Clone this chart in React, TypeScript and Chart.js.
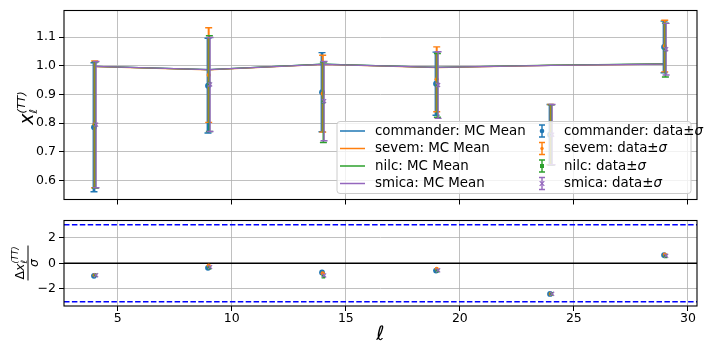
import React, { useEffect, useRef } from 'react';
import { Chart, registerables } from 'chart.js';

Chart.register(...registerables);

// ---------------- data ----------------
const ells = [4, 9, 14, 19, 24, 29];
const methods = ['commander', 'sevem', 'nilc', 'smica'];
const methodColors = ['#1f77b4', '#ff7f0e', '#2ca02c', '#9467bd'];
const xOffsets = [-0.045, -0.015, 0.015, 0.045];
const pointStyles = ['circle', 'circle', 'rect', 'crossRot'];
const pointRadii = [2.9, 2.1, 2.5, 2.9];
const barWidths = [2.8, 2.0, 1.7, 1.4];

const commanderMean = [0.998, 0.987, 1.006, 0.995, 1.002, 1.007];
const sevemMean = [0.997, 0.986, 1.005, 0.994, 1.002, 1.006];
const nilcMean = [0.998, 0.987, 1.006, 0.995, 1.003, 1.007];
const smicaMean = [0.998, 0.987, 1.005, 0.995, 1.002, 1.006];

const commanderData = [0.786, 0.931, 0.908, 0.938, 0.760, 1.066];
const sevemData = [0.796, 0.968, 0.903, 0.953, 0.760, 1.069];
const nilcData = [0.794, 0.938, 0.873, 0.932, 0.759, 1.055];
const smicaData = [0.795, 0.935, 0.877, 0.933, 0.760, 1.058];

const commanderSigma = [0.225, 0.165, 0.138, 0.110, 0.105, 0.090];
const sevemSigma = [0.221, 0.165, 0.134, 0.113, 0.105, 0.090];
const nilcSigma = [0.220, 0.167, 0.140, 0.111, 0.105, 0.094];
const smicaSigma = [0.220, 0.164, 0.138, 0.116, 0.105, 0.090];

const commanderResid = [-0.98, -0.36, -0.72, -0.57, -2.39, 0.64];
const sevemResid = [-0.93, -0.18, -0.78, -0.43, -2.39, 0.67];
const nilcResid = [-0.93, -0.35, -1.05, -0.58, -2.38, 0.52];
const smicaResid = [-0.93, -0.30, -0.95, -0.55, -2.38, 0.58];

const xTicks = [5, 10, 15, 20, 25, 30];
const topYTicks = [0.6, 0.7, 0.8, 0.9, 1.0, 1.1];
const bottomYTicks = [-2, 0, 2];
const sigmaBands = [-3, 3];
const zeroLevel = 0;

const X_MIN = 2.64;
const X_MAX = 30.4;
const TOP_Y_MIN = 0.534;
const TOP_Y_MAX = 1.193;
const BOT_Y_MIN = -3.33;
const BOT_Y_MAX = 3.33;

const means = [commanderMean, sevemMean, nilcMean, smicaMean];
const dataVals = [commanderData, sevemData, nilcData, smicaData];
const sigmas = [commanderSigma, sevemSigma, nilcSigma, smicaSigma];
const resids = [commanderResid, sevemResid, nilcResid, smicaResid];

// ---------------- styling ----------------
const FONT = 'DejaVu Sans';
const TICK_SIZE = 12.5;
const LEGEND_SIZE = 13.4;

const gridCommon = {
  color: '#b0b0b0',
  lineWidth: 0.8,
  drawTicks: true,
  tickLength: 5,
  tickWidth: 1,
  tickColor: '#000',
};

const fixTicks = (vals: number[]) => (s: any) => {
  s.ticks = vals.map((v) => ({ value: v }));
};

// ---------------- plugins ----------------
const framePlugin = {
  id: 'frame',
  afterDraw(chart: any) {
    const { ctx, chartArea } = chart;
    ctx.save();
    ctx.strokeStyle = '#000';
    ctx.lineWidth = 1.1;
    ctx.strokeRect(chartArea.left, chartArea.top, chartArea.right - chartArea.left, chartArea.bottom - chartArea.top);
    ctx.restore();
  },
};

const errorBarPlugin = {
  id: 'errorBars',
  beforeDatasetDraw(chart: any, args: any) {
    const ds: any = chart.data.datasets[args.index];
    if (!ds.errors) return;
    const { ctx, chartArea } = chart;
    const xs = chart.scales.x;
    const ys = chart.scales.y;
    ctx.save();
    ctx.beginPath();
    ctx.rect(chartArea.left, chartArea.top, chartArea.right - chartArea.left, chartArea.bottom - chartArea.top);
    ctx.clip();
    ctx.strokeStyle = ds.barColor;
    ds.data.forEach((p: any, i: number) => {
      const px = xs.getPixelForValue(p.x);
      const top = ys.getPixelForValue(p.y + ds.errors[i]);
      const bot = ys.getPixelForValue(p.y - ds.errors[i]);
      ctx.lineWidth = ds.barWidth;
      ctx.beginPath();
      ctx.moveTo(px, top);
      ctx.lineTo(px, bot);
      ctx.stroke();
      ctx.lineWidth = 1.4;
      ctx.beginPath();
      ctx.moveTo(px - 3.5, top);
      ctx.lineTo(px + 3.5, top);
      ctx.moveTo(px - 3.5, bot);
      ctx.lineTo(px + 3.5, bot);
      ctx.stroke();
    });
    ctx.restore();
  },
};

function drawMarker(ctx: CanvasRenderingContext2D, style: string, x: number, y: number, r: number, color: string) {
  ctx.fillStyle = color;
  ctx.strokeStyle = color;
  ctx.lineWidth = 1.2;
  ctx.beginPath();
  if (style === 'circle') {
    ctx.arc(x, y, r, 0, Math.PI * 2);
    ctx.fill();
  } else if (style === 'rect') {
    ctx.fillRect(x - r, y - r, 2 * r, 2 * r);
  } else {
    ctx.moveTo(x - r, y - r);
    ctx.lineTo(x + r, y + r);
    ctx.moveTo(x - r, y + r);
    ctx.lineTo(x + r, y - r);
    ctx.stroke();
  }
}

const legendPlugin = {
  id: 'legendBox',
  afterDraw(chart: any) {
    const { ctx, chartArea } = chart;
    const w = 354;
    const h = 72;
    const left = chartArea.right - 6 - w;
    const top = chartArea.bottom - 6 - h;
    ctx.save();
    ctx.beginPath();
    const r = 3;
    ctx.moveTo(left + r, top);
    ctx.lineTo(left + w - r, top);
    ctx.quadraticCurveTo(left + w, top, left + w, top + r);
    ctx.lineTo(left + w, top + h - r);
    ctx.quadraticCurveTo(left + w, top + h, left + w - r, top + h);
    ctx.lineTo(left + r, top + h);
    ctx.quadraticCurveTo(left, top + h, left, top + h - r);
    ctx.lineTo(left, top + r);
    ctx.quadraticCurveTo(left, top, left + r, top);
    ctx.closePath();
    ctx.fillStyle = 'rgba(255,255,255,0.8)';
    ctx.fill();
    ctx.strokeStyle = '#cccccc';
    ctx.lineWidth = 1;
    ctx.stroke();

    ctx.textBaseline = 'middle';
    ctx.textAlign = 'left';
    methods.forEach((m, i) => {
      const yRow = top + 9.5 + i * 17.5;
      const color = methodColors[i];
      ctx.strokeStyle = color;
      ctx.lineWidth = 1.5;
      ctx.beginPath();
      ctx.moveTo(left + 3, yRow);
      ctx.lineTo(left + 28, yRow);
      ctx.stroke();
      ctx.fillStyle = '#000';
      ctx.font = `${LEGEND_SIZE}px "${FONT}"`;
      ctx.fillText(`${m}: MC Mean`, left + 38, yRow + 0.5);
      const ix = left + 205;
      ctx.strokeStyle = color;
      ctx.lineWidth = 1.4;
      ctx.beginPath();
      ctx.moveTo(ix, yRow - 6);
      ctx.lineTo(ix, yRow + 6);
      ctx.moveTo(ix - 3, yRow - 6);
      ctx.lineTo(ix + 3, yRow - 6);
      ctx.moveTo(ix - 3, yRow + 6);
      ctx.lineTo(ix + 3, yRow + 6);
      ctx.stroke();
      drawMarker(ctx, pointStyles[i], ix, yRow, pointRadii[i] * 0.8, color);
      ctx.fillStyle = '#000';
      ctx.font = `${LEGEND_SIZE}px "${FONT}"`;
      const t = `${m}: data±`;
      ctx.fillText(t, left + 227, yRow + 0.5);
      const tw = ctx.measureText(t).width;
      ctx.font = `italic ${LEGEND_SIZE}px "${FONT}"`;
      ctx.fillText('σ', left + 227 + tw, yRow + 0.5);
    });
    ctx.restore();
  },
};

const topLabelPlugin = {
  id: 'topLabel',
  afterDraw(chart: any) {
    const { ctx } = chart;
    ctx.save();
    ctx.translate(33, 108);
    ctx.rotate(-Math.PI / 2);
    ctx.fillStyle = '#000';
    ctx.textBaseline = 'alphabetic';
    ctx.textAlign = 'left';
    ctx.font = `italic 19px "${FONT}"`;
    const wx = ctx.measureText('x').width;
    ctx.font = `italic 11px "${FONT}"`;
    const wsup = ctx.measureText('(TT)').width;
    const total = wx + wsup;
    const u0 = -total / 2;
    ctx.font = `italic 19px "${FONT}"`;
    ctx.fillText('x', u0, 0);
    ctx.font = `italic 11px "${FONT}"`;
    ctx.fillText('ℓ', u0 + wx, 4);
    ctx.fillText('(TT)', u0 + wx, -8.5);
    ctx.restore();
  },
};

const bottomLabelPlugin = {
  id: 'bottomLabel',
  afterDraw(chart: any) {
    const { ctx } = chart;
    ctx.save();
    ctx.translate(28, 263 - 210);
    ctx.rotate(-Math.PI / 2);
    ctx.fillStyle = '#000';
    ctx.strokeStyle = '#000';
    ctx.textBaseline = 'alphabetic';
    ctx.textAlign = 'left';
    ctx.font = `12.5px "${FONT}"`;
    const wD = ctx.measureText('Δ').width;
    ctx.font = `italic 12.5px "${FONT}"`;
    const wx = ctx.measureText('x').width;
    ctx.font = `italic 8.5px "${FONT}"`;
    const wsup = ctx.measureText('(TT)').width;
    const total = wD + wx + wsup;
    const u0 = -total / 2;
    ctx.font = `12.5px "${FONT}"`;
    ctx.fillText('Δ', u0, -4);
    ctx.font = `italic 12.5px "${FONT}"`;
    ctx.fillText('x', u0 + wD, -4);
    ctx.font = `italic 8.5px "${FONT}"`;
    ctx.fillText('ℓ', u0 + wD + wx, -1);
    ctx.fillText('(TT)', u0 + wD + wx, -10);
    ctx.lineWidth = 1;
    ctx.beginPath();
    ctx.moveTo(-total / 2 - 1, 0);
    ctx.lineTo(total / 2 + 1, 0);
    ctx.stroke();
    ctx.font = `italic 12.5px "${FONT}"`;
    const ws = ctx.measureText('σ').width;
    ctx.fillText('σ', -ws / 2, 9.5);
    ctx.restore();
  },
};

const refLinesPlugin = {
  id: 'refLines',
  beforeDatasetsDraw(chart: any) {
    const { ctx, chartArea } = chart;
    const ys = chart.scales.y;
    ctx.save();
    ctx.lineWidth = 1.5;
    ctx.strokeStyle = '#0000ff';
    ctx.setLineDash([5.5, 2.4]);
    sigmaBands.forEach((v) => {
      const py = ys.getPixelForValue(v);
      ctx.beginPath();
      ctx.moveTo(chartArea.left, py);
      ctx.lineTo(chartArea.right, py);
      ctx.stroke();
    });
    ctx.setLineDash([]);
    ctx.strokeStyle = '#000';
    const pz = ys.getPixelForValue(zeroLevel);
    ctx.beginPath();
    ctx.moveTo(chartArea.left, pz);
    ctx.lineTo(chartArea.right, pz);
    ctx.stroke();
    ctx.restore();
  },
};

// ---------------- component ----------------
export default function App() {
  const topRef = useRef<HTMLCanvasElement | null>(null);
  const botRef = useRef<HTMLCanvasElement | null>(null);

  useEffect(() => {
    Chart.defaults.font.family = FONT;
    Chart.defaults.color = '#000';

    const lineSets = methods.map((m, i) => ({
      type: 'line' as const,
      label: `${m}: MC Mean`,
      data: ells.map((l, k) => ({ x: l, y: means[i][k] })),
      borderColor: methodColors[i],
      backgroundColor: methodColors[i],
      borderWidth: 1.2,
      pointRadius: 0,
      tension: 0,
      fill: false,
      order: 13 - i,
    }));

    const errSets = methods.map((m, i) => ({
      type: 'scatter' as const,
      label: `${m}: data±σ`,
      data: ells.map((l, k) => ({ x: l + xOffsets[i], y: dataVals[i][k] })),
      errors: sigmas[i],
      barColor: methodColors[i],
      barWidth: barWidths[i],
      pointStyle: pointStyles[i],
      pointRadius: pointRadii[i],
      pointBorderWidth: pointStyles[i] === 'crossRot' ? 1.2 : 0,
      borderColor: methodColors[i],
      backgroundColor: methodColors[i],
      order: 3 - i,
    }));

    const top = new Chart(topRef.current as HTMLCanvasElement, {
      type: 'scatter',
      data: { datasets: [...lineSets, ...errSets] as any },
      options: {
        animation: false,
        responsive: false,
        maintainAspectRatio: false,
        events: [],
        layout: { padding: { left: 0, right: 11, top: 10, bottom: 0 } },
        plugins: { legend: { display: false }, tooltip: { enabled: false } },
        scales: {
          x: {
            type: 'linear',
            min: X_MIN,
            max: X_MAX,
            afterBuildTicks: fixTicks(xTicks),
            ticks: { display: false },
            grid: gridCommon,
            border: { display: false },
            afterFit: (s: any) => {
              s.height = 8;
            },
          },
          y: {
            type: 'linear',
            min: TOP_Y_MIN,
            max: TOP_Y_MAX,
            afterBuildTicks: fixTicks(topYTicks),
            ticks: {
              callback: (v: any) => Number(v).toFixed(1),
              font: { size: TICK_SIZE },
              padding: 3,
            },
            grid: gridCommon,
            border: { display: false },
            afterFit: (s: any) => {
              s.width = 64;
            },
          },
        },
      } as any,
      plugins: [errorBarPlugin, framePlugin, legendPlugin, topLabelPlugin],
    });

    const residSets = methods.map((m, i) => ({
      type: 'scatter' as const,
      label: m,
      data: ells.map((l, k) => ({ x: l + xOffsets[i], y: resids[i][k] })),
      pointStyle: pointStyles[i],
      pointRadius: pointRadii[i],
      pointBorderWidth: pointStyles[i] === 'crossRot' ? 1.2 : 0,
      borderColor: methodColors[i],
      backgroundColor: methodColors[i],
      order: 3 - i,
    }));

    const bottom = new Chart(botRef.current as HTMLCanvasElement, {
      type: 'scatter',
      data: { datasets: residSets as any },
      options: {
        animation: false,
        responsive: false,
        maintainAspectRatio: false,
        events: [],
        layout: { padding: { left: 0, right: 11, top: 6, bottom: 0 } },
        plugins: { legend: { display: false }, tooltip: { enabled: false } },
        scales: {
          x: {
            type: 'linear',
            min: X_MIN,
            max: X_MAX,
            afterBuildTicks: fixTicks(xTicks),
            ticks: { font: { size: TICK_SIZE }, padding: 0, maxRotation: 0 },
            grid: gridCommon,
            border: { display: false },
            title: {
              display: true,
              text: 'ℓ',
              font: { size: 20, style: 'italic', family: FONT },
              padding: { top: 0, bottom: 7 },
            },
            afterFit: (s: any) => {
              s.height = 48;
            },
          },
          y: {
            type: 'linear',
            min: BOT_Y_MIN,
            max: BOT_Y_MAX,
            afterBuildTicks: fixTicks(bottomYTicks),
            ticks: {
              callback: (v: any) => (Number(v) < 0 ? '−' + Math.abs(Number(v)) : String(v)),
              font: { size: TICK_SIZE },
              padding: 3,
            },
            grid: gridCommon,
            border: { display: false },
            afterFit: (s: any) => {
              s.width = 64;
            },
          },
        },
      } as any,
      plugins: [refLinesPlugin, framePlugin, bottomLabelPlugin],
    });

    return () => {
      top.destroy();
      bottom.destroy();
    };
  }, []);

  return (
    <div style={{ position: 'absolute', left: 0, top: 0, width: 708, height: 354, background: '#fff' }}>
      <canvas ref={topRef} width={708} height={210} style={{ position: 'absolute', left: 0, top: 0, display: 'block' }} />
      <canvas ref={botRef} width={708} height={144} style={{ position: 'absolute', left: 0, top: 210, display: 'block' }} />
    </div>
  );
}
